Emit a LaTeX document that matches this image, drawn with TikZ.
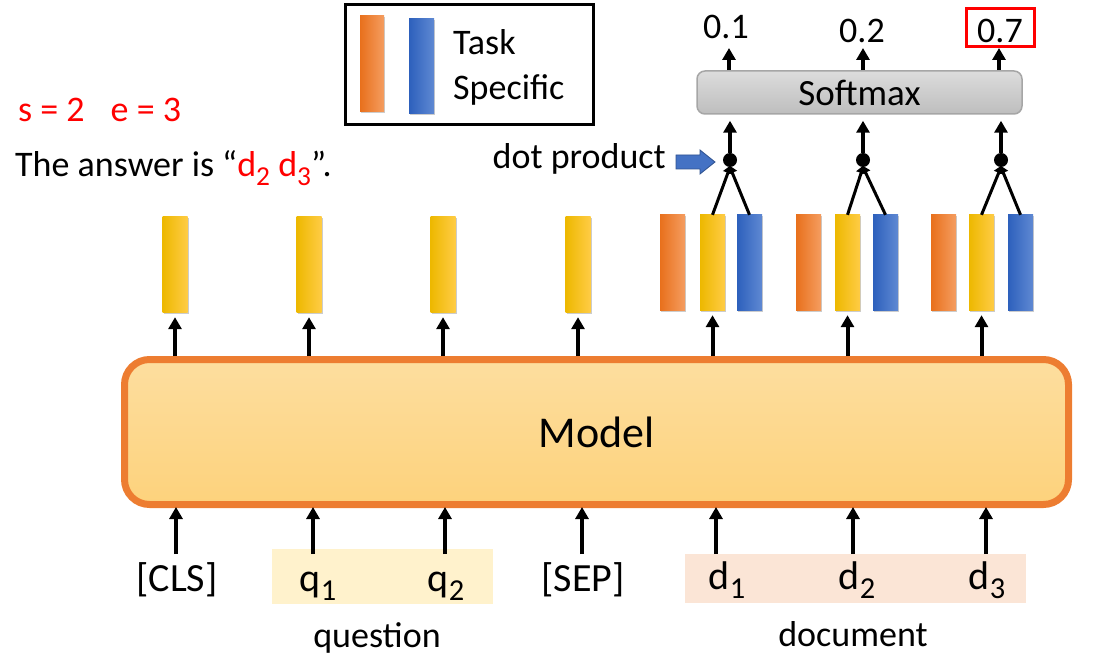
\documentclass[tikz,border=0pt]{standalone}
\usepackage{fontspec}
\setmainfont{Carlito}
\usetikzlibrary{arrows.meta,shadows}
\definecolor{modelfill1}{HTML}{FDDE9F}
\definecolor{modelfill2}{HTML}{FDD27C}
\definecolor{modeldraw}{HTML}{ED7D31}
\definecolor{orL}{HTML}{E8701C}
\definecolor{orR}{HTML}{F59D60}
\definecolor{yeL}{HTML}{EDB800}
\definecolor{yeR}{HTML}{FFCC45}
\definecolor{blL}{HTML}{2D60BC}
\definecolor{blR}{HTML}{5F89D3}
\definecolor{qbg}{HTML}{FFF2CC}
\definecolor{dbg}{HTML}{FBE5D6}
\definecolor{smT}{HTML}{DCDCDC}
\definecolor{smB}{HTML}{BEBEBE}
\definecolor{smD}{HTML}{A6A6A6}
\definecolor{arrowblue}{HTML}{4472C4}
\definecolor{arrowblueD}{HTML}{2F528F}
\newcommand{\tokidx}[1]{\raisebox{-0.24em}{\scalebox{0.76}{#1}}}
\tikzset{
  bar/.style={rectangle, inner sep=0pt, minimum width=25pt, minimum height=95pt,
    shading=axis, shading angle=90,
    drop shadow={shadow xshift=1pt, shadow yshift=-1.5pt, opacity=0.2, fill=black}},
  orbar/.style={bar, left color=orL, right color=orR},
  yebar/.style={bar, left color=yeL, right color=yeR},
  blbar/.style={bar, left color=blL, right color=blR},
  arr/.style={line width=4pt, -{Triangle[width=13pt,length=12pt]}},
  thinarr/.style={line width=3pt, -{Triangle[width=10pt,length=8pt]}},
  tok/.style={anchor=base, inner sep=0pt, font=\fontsize{40}{48}\selectfont},
  lab/.style={anchor=base, inner sep=0pt, font=\fontsize{36}{43}\selectfont},
  dotp/.style={circle, fill=black, inner sep=0pt, minimum size=14pt},
}
\begin{document}
\begin{tikzpicture}[x=1pt,y=-1pt]
\useasboundingbox (0,0) rectangle (1094,668);

% highlights
\fill[qbg] (272,549) rectangle (493,604);
\fill[dbg] (685,554) rectangle (1026,603);

% model
\node[rectangle, rounded corners=25pt, line width=7pt, draw=modeldraw,
  top color=modelfill1, bottom color=modelfill2,
  minimum width=944pt, minimum height=145pt,
  font=\fontsize{44}{52}\selectfont] (model) at (596.5,432) {Model};

% tokens
\node[tok] (cls) at (177,591) {[CLS]};
\node[tok] (q1) at (318,591) {q\tokidx{1}};
\node[tok] (q2) at (446,591) {q\tokidx{2}};
\node[tok] (sep) at (583,591) {[SEP]};
\node[tok] (d1) at (727,589) {d\tokidx{1}};
\node[tok] (d2) at (857,589) {d\tokidx{2}};
\node[tok] (d3) at (987,589) {d\tokidx{3}};
\node[lab] (question) at (377,647) {question};
\node[lab] (document) at (853,646) {document};

% bottom arrow bases
\coordinate (b1) at (176,554);
\coordinate (b2) at (313,554);
\coordinate (b3) at (445,554);
\coordinate (b4) at (582,554);
\coordinate (b5) at (716,554);
\coordinate (b6) at (853,554);
\coordinate (b7) at (986,554);
\foreach \i in {1,...,7}{
  \draw[arr, shorten >=-1pt] (b\i) -- (b\i |- model.south);
}

% output bars
\node[yebar] (o1) at (175,264.5) {};
\node[yebar] (o2) at (309,264.5) {};
\node[yebar] (o3) at (443,264.5) {};
\node[yebar] (o4) at (578,264.5) {};
\node[orbar] (r1) at (672.5,262.5) {};
\node[yebar] (y1) at (712.5,262.5) {};
\node[blbar] (u1) at (749.5,262.5) {};
\node[orbar] (r2) at (808.5,262.5) {};
\node[yebar] (y2) at (847.5,262.5) {};
\node[blbar] (u2) at (885.5,262.5) {};
\node[orbar] (r3) at (943.5,262.5) {};
\node[yebar] (y3) at (981.5,262.5) {};
\node[blbar] (u3) at (1020.5,262.5) {};

\foreach \n in {o1,o2,o3,o4,y1,y2,y3}{
  \draw[arr, shorten >=5pt] (model.north -| \n.south) -- (\n.south);
}

% dot products
\node[dotp] (dot1) at (730,160) {};
\node[dotp] (dot2) at (863,160) {};
\node[dotp] (dot3) at (1001,160) {};
\foreach \k in {1,2,3}{
  \draw[thinarr, shorten >=-2pt] (y\k.north) -- (dot\k.south);
  \draw[thinarr, shorten >=-2pt] (u\k.north) -- (dot\k.south);
}

% softmax
\node[rectangle, rounded corners=8pt, draw=smD, line width=1.5pt,
  top color=smT, bottom color=smB, minimum width=325pt, minimum height=43pt,
  font=\fontsize{37}{44}\selectfont] (sm) at (859.5,92.5) {Softmax};
\foreach \k in {1,2,3}{
  \draw[arr, shorten >=6pt] (dot\k.north) -- (dot\k.north |- sm.south);
}

% probabilities
\node[lab] (p1) at (726,39) {0.1};
\node[lab] (p2) at (862,43) {0.2};
\node[lab] (p3) at (1000,43) {0.7};
\node[rectangle, draw=red, line width=3pt, minimum width=68pt, minimum height=38pt, inner sep=0pt] (best) at (1000.5,27.5) {};
\coordinate (t1) at (729,48);
\coordinate (t2) at (863,48);
\coordinate (t3) at (999,48);
\foreach \k in {1,2,3}{
  \draw[arr] (sm.north -| t\k) -- (t\k);
}

% dot product label
\node[lab, anchor=base east] (dplab) at (666,169) {dot product};
\draw[fill=arrowblue, draw=arrowblueD, line width=0.8pt]
  (676,155) -- (700,155) -- (700,150) -- (715,162) -- (700,174) -- (700,169) -- (676,169) -- cycle;

% legend
\node[rectangle, draw=black, line width=3pt, minimum width=248pt, minimum height=120pt] (legend) at (469,65) {};
\node[orbar, minimum height=96pt, minimum width=24pt] (legor) at (372,64) {};
\node[blbar, minimum height=95pt] (legbl) at (421.5,66.5) {};
\node[lab, anchor=base west] (task) at (453,55) {Task};
\node[lab, anchor=base west] (spec) at (453,100) {Specific};

% left text
\node[lab, anchor=base west, text=red] (se) at (18,122) {s = 2\hspace{26pt}e = 3};
\node[lab, anchor=base west] (ans) at (15,177) {The answer is “\textcolor{red}{d\tokidx{2} d\tokidx{3}}”.};
\end{tikzpicture}
\end{document}
